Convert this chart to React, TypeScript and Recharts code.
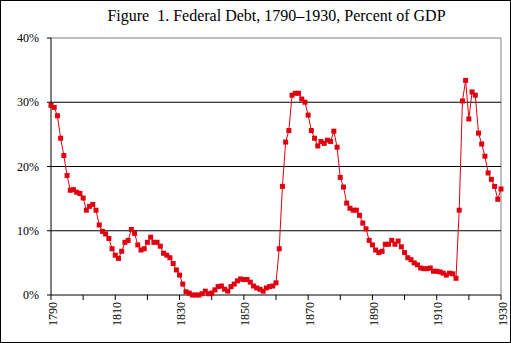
import React from "react";
import { LineChart, Line, XAxis, YAxis, ReferenceLine } from "recharts";

const years: number[] = [
  1790, 1791, 1792, 1793, 1794, 1795, 1796, 1797, 1798, 1799,
  1800, 1801, 1802, 1803, 1804, 1805, 1806, 1807, 1808, 1809,
  1810, 1811, 1812, 1813, 1814, 1815, 1816, 1817, 1818, 1819,
  1820, 1821, 1822, 1823, 1824, 1825, 1826, 1827, 1828, 1829,
  1830, 1831, 1832, 1833, 1834, 1835, 1836, 1837, 1838, 1839,
  1840, 1841, 1842, 1843, 1844, 1845, 1846, 1847, 1848, 1849,
  1850, 1851, 1852, 1853, 1854, 1855, 1856, 1857, 1858, 1859,
  1860, 1861, 1862, 1863, 1864, 1865, 1866, 1867, 1868, 1869,
  1870, 1871, 1872, 1873, 1874, 1875, 1876, 1877, 1878, 1879,
  1880, 1881, 1882, 1883, 1884, 1885, 1886, 1887, 1888, 1889,
  1890, 1891, 1892, 1893, 1894, 1895, 1896, 1897, 1898, 1899,
  1900, 1901, 1902, 1903, 1904, 1905, 1906, 1907, 1908, 1909,
  1910, 1911, 1912, 1913, 1914, 1915, 1916, 1917, 1918, 1919,
  1920, 1921, 1922, 1923, 1924, 1925, 1926, 1927, 1928, 1929,
  1930,
];

const debtPct: number[] = [
  29.5, 29.2, 27.9, 24.4, 21.7, 18.6, 16.3, 16.4, 16.0, 15.8,
  15.1, 13.2, 13.8, 14.1, 13.2, 10.9, 9.9, 9.5, 8.8, 7.2,
  6.2, 5.7, 6.8, 8.2, 8.5, 10.2, 9.6, 7.8, 7.0, 7.2,
  8.2, 9.0, 8.2, 8.2, 7.6, 6.5, 6.2, 5.8, 4.9, 3.9,
  3.1, 1.7, 0.5, 0.3, 0.0, 0.0, 0.0, 0.2, 0.6, 0.2,
  0.3, 0.8, 1.3, 1.4, 0.9, 0.6, 1.3, 1.7, 2.2, 2.5,
  2.4, 2.4, 2.0, 1.4, 1.1, 0.9, 0.6, 1.1, 1.3, 1.4,
  1.9, 7.2, 16.9, 23.8, 25.6, 31.1, 31.4, 31.4, 30.5, 30.0,
  28.0, 25.6, 24.4, 23.2, 23.9, 23.6, 24.1, 23.9, 25.5, 23.0,
  18.3, 16.8, 14.3, 13.5, 13.2, 13.2, 12.4, 11.2, 10.3, 8.5,
  7.8, 7.0, 6.6, 6.8, 7.9, 7.9, 8.5, 7.9, 8.4, 7.5,
  6.6, 5.8, 5.5, 5.0, 4.7, 4.2, 4.1, 4.1, 4.2, 3.7,
  3.7, 3.6, 3.4, 3.1, 3.4, 3.3, 2.6, 13.2, 30.2, 33.4,
  27.4, 31.6, 31.1, 25.2, 23.5, 21.6, 19.0, 18.0, 16.9, 14.9,
  16.5,
];

const xTicks: number[] = [1790, 1800, 1810, 1820, 1830, 1840, 1850, 1860, 1870, 1880, 1890, 1900, 1910, 1920, 1930];
const xLabels: number[] = [1790, 1810, 1830, 1850, 1870, 1890, 1910, 1930];
const yTicks: number[] = [0, 10, 20, 30, 40];
const gridValues: number[] = [10, 20, 30];

const title = "Figure  1. Federal Debt, 1790\u20131930, Percent of GDP";

const data = years.map((y, i) => ({ year: y, debt: debtPct[i] }));

const FONT = "Liberation Serif";
const RED = "#E0000F";

const XTick = (props: any) => {
  const { x, y, payload } = props;
  if (!xLabels.includes(payload.value)) return <g />;
  const tx = x + 1.5;
  const ty = y - 1;
  return (
    <text
      x={tx}
      y={ty}
      transform={`rotate(-90, ${tx}, ${ty})`}
      textAnchor="end"
      dominantBaseline="central"
      fontFamily={FONT}
      fontSize={12}
      fill="#000"
    >
      {payload.value}
    </text>
  );
};

const YTick = (props: any) => {
  const { x, y, payload } = props;
  return (
    <text
      x={x}
      y={y}
      textAnchor="end"
      dominantBaseline="central"
      fontFamily={FONT}
      fontSize={12}
      fill="#000"
    >
      {`${payload.value}%`}
    </text>
  );
};

const SquareDot = (props: any) => {
  const { cx, cy, index } = props;
  if (cx == null || cy == null) return <g key={`d-${index}`} />;
  return <rect key={`d-${index}`} x={cx - 2.5} y={cy - 2.5} width={5} height={5} fill={RED} />;
};

export default function App() {
  return (
    <div style={{ position: "absolute", left: 0, top: 0, width: 511, height: 343, background: "#fff" }}>
      <LineChart
        width={511}
        height={343}
        data={data}
        margin={{ top: 38, right: 10, bottom: 8, left: 0 }}
      >
        <ReferenceLine y={40} stroke="#808080" strokeWidth={1} />
        <ReferenceLine x={1930} stroke="#808080" strokeWidth={1} />
        {gridValues.map((v) => (
          <ReferenceLine key={v} y={v} stroke="#000" strokeWidth={1} />
        ))}
        <XAxis
          dataKey="year"
          type="number"
          domain={[1790, 1930]}
          ticks={xTicks}
          interval={0}
          height={40}
          tickSize={5}
          tickMargin={3}
          axisLine={{ stroke: "#000", strokeWidth: 1 }}
          tickLine={{ stroke: "#000", strokeWidth: 1 }}
          tick={<XTick />}
        />
        <YAxis
          type="number"
          domain={[0, 40]}
          ticks={yTicks}
          interval={0}
          width={51}
          tickSize={4}
          tickMargin={8}
          axisLine={{ stroke: "#000", strokeWidth: 1 }}
          tickLine={{ stroke: "#000", strokeWidth: 1 }}
          tick={<YTick />}
        />
        <Line
          type="linear"
          dataKey="debt"
          stroke={RED}
          strokeWidth={1}
          dot={<SquareDot />}
          activeDot={false}
          isAnimationActive={false}
        />
      </LineChart>
      <div
        style={{
          position: "absolute",
          left: 0,
          top: 8,
          width: 553,
          textAlign: "center",
          fontFamily: FONT,
          fontSize: 16,
          lineHeight: "16px",
          whiteSpace: "pre",
          color: "#000",
        }}
      >
        {title}
      </div>
      <div
        style={{
          position: "absolute",
          left: 0,
          top: 0,
          width: 511,
          height: 343,
          boxSizing: "border-box",
          border: "1px solid #000",
          pointerEvents: "none",
        }}
      />
    </div>
  );
}
